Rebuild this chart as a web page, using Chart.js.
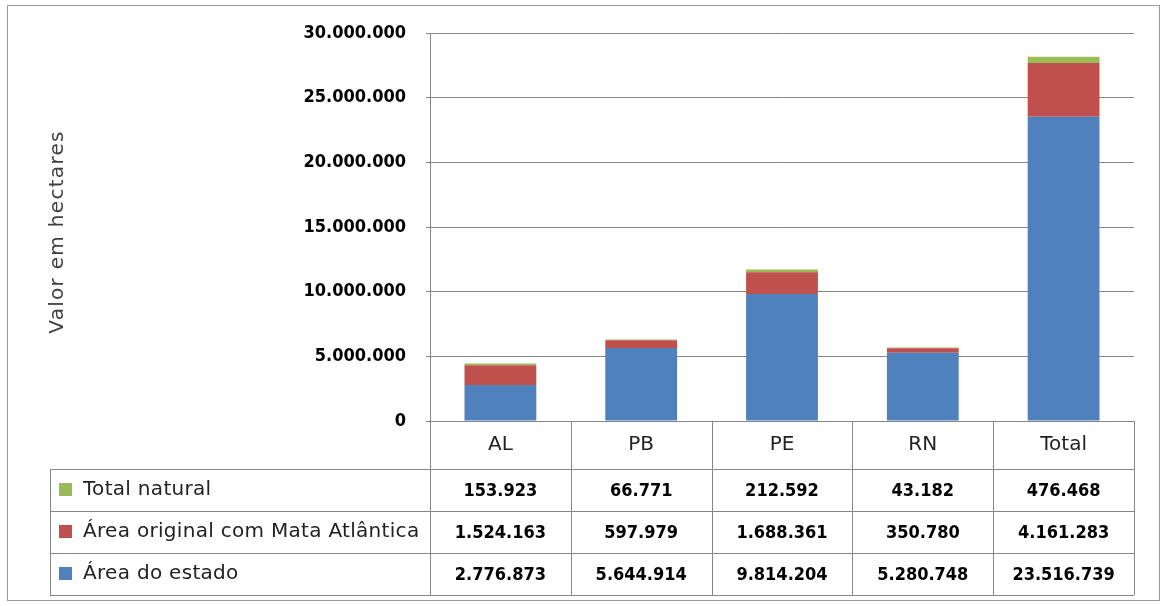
<!DOCTYPE html>
<html>
<head>
<meta charset="utf-8">
<script src="https://cdn.jsdelivr.net/npm/chart.js@4.4.1/dist/chart.umd.min.js"></script>
<style>
    body { margin: 0; background: #fff; }
    #wrap { position: absolute; left: 0; top: 0; width: 1161px; height: 606px; }
</style>
</head>
<body>
<div id="wrap"><canvas id="chart"></canvas></div>
<script>
const categories = ["AL", "PB", "PE", "RN", "Total"];
const areaEstado = [2776873, 5644914, 9814204, 5280748, 23516739];
const areaMata = [1524163, 597979, 1688361, 350780, 4161283];
const totalNatural = [153923, 66771, 212592, 43182, 476468];
const yTicks = [0, 5000000, 10000000, 15000000, 20000000, 25000000, 30000000];

const seriesNames = ["Área do estado", "Área original com Mata Atlântica", "Total natural"];
const seriesColors = ["#4F81BD", "#C0504D", "#9BBB59"];

function fmt(v) {
    return String(v).replace(/\B(?=(\d{3})+(?!\d))/g, ".");
}

const numFont = "bold 18px 'DejaVu Sans Condensed', 'DejaVu Sans', sans-serif";
const textFont = "20px 'DejaVu Sans', sans-serif";
const gridColor = "#868686";

// draws the frame, the y title and the data table under the plot
const tablePlugin = {
    id: "dataTable",
    afterDraw(chart) {
        const ctx = chart.ctx;
        const area = chart.chartArea;
        const x = chart.scales.x;
        const half = (area.right - area.left) / categories.length / 2;
        const headTop = area.bottom;
        const headBottom = headTop + 48;
        const rowH = 42;
        const legendLeft = 50;
        const tableBottom = headBottom + rowH * 3;

        ctx.save();
        ctx.strokeStyle = "#9a9a9a";
        ctx.lineWidth = 1;
        ctx.strokeRect(7.5, 5.5, 1152, 595);

        ctx.fillStyle = "#404040";
        ctx.font = textFont;
        ctx.letterSpacing = "1.3px";
        ctx.textAlign = "center";
        ctx.textBaseline = "middle";
        ctx.save();
        ctx.translate(58, 232);
        ctx.rotate(-Math.PI / 2);
        ctx.fillText("Valor em hectares", 0, 0);
        ctx.restore();

        ctx.strokeStyle = gridColor;
        ctx.beginPath();
        // header row (categories)
        ctx.moveTo(area.left, headTop + 0.5);
        ctx.lineTo(area.right, headTop + 0.5);
        for (let r = 0; r <= 3; r++) {
            const yy = Math.round(headBottom + r * rowH) + 0.5;
            ctx.moveTo(legendLeft, yy);
            ctx.lineTo(area.right, yy);
        }
        ctx.moveTo(legendLeft + 0.5, headBottom);
        ctx.lineTo(legendLeft + 0.5, tableBottom);
        categories.forEach((c, i) => {
            const xl = Math.round(x.getPixelForValue(i) - half) + 0.5;
            ctx.moveTo(xl, headTop);
            ctx.lineTo(xl, tableBottom);
        });
        ctx.moveTo(Math.round(area.right) + 0.5, headTop);
        ctx.lineTo(Math.round(area.right) + 0.5, tableBottom);
        ctx.stroke();

        ctx.fillStyle = "#222";
        ctx.font = textFont;
        ctx.letterSpacing = "0px";
        categories.forEach((c, i) => {
            ctx.fillText(c, x.getPixelForValue(i), headTop + 24);
        });

        const rows = [
            { name: seriesNames[2], color: seriesColors[2], values: totalNatural },
            { name: seriesNames[1], color: seriesColors[1], values: areaMata },
            { name: seriesNames[0], color: seriesColors[0], values: areaEstado }
        ];
        rows.forEach((row, r) => {
            const cy = headBottom + r * rowH + rowH / 2;
            ctx.fillStyle = row.color;
            ctx.fillRect(legendLeft + 9, cy - 7, 13, 13);
            ctx.fillStyle = "#222";
            ctx.font = textFont;
            ctx.letterSpacing = "0.3px";
            ctx.textAlign = "left";
            ctx.fillText(row.name, legendLeft + 33, cy);
            ctx.font = numFont;
            ctx.letterSpacing = "0px";
            ctx.textAlign = "center";
            ctx.fillStyle = "#000";
            row.values.forEach((v, i) => {
                ctx.fillText(fmt(v), x.getPixelForValue(i), cy + 1);
            });
        });
        ctx.restore();
    }
};

new Chart(document.getElementById("chart"), {
    type: "bar",
    data: {
        labels: categories,
        datasets: [
            { label: seriesNames[0], data: areaEstado, backgroundColor: seriesColors[0] },
            { label: seriesNames[1], data: areaMata, backgroundColor: seriesColors[1] },
            { label: seriesNames[2], data: totalNatural, backgroundColor: seriesColors[2] }
        ]
    },
    options: {
        responsive: true,
        maintainAspectRatio: false,
        animation: false,
        layout: { padding: { top: 33, bottom: 185, right: 27, left: 0 } },
        datasets: { bar: { categoryPercentage: 1, barPercentage: 0.51 } },
        plugins: {
            legend: { display: false },
            tooltip: { enabled: false }
        },
        scales: {
            x: {
                stacked: true,
                display: false
            },
            y: {
                stacked: true,
                min: 0,
                max: 30000000,
                afterFit: (scale) => { scale.width = 430; },
                afterBuildTicks: (scale) => { scale.ticks = yTicks.map((v) => ({ value: v })); },
                border: { display: true, color: gridColor, width: 1 },
                grid: { color: gridColor, tickLength: 4, lineWidth: 1 },
                ticks: {
                    padding: 20,
                    color: "#000",
                    font: { family: "'DejaVu Sans Condensed', 'DejaVu Sans', sans-serif", size: 18, weight: "bold" },
                    callback: (v) => fmt(v)
                }
            }
        }
    },
    plugins: [tablePlugin]
});
</script>
</body>
</html>
